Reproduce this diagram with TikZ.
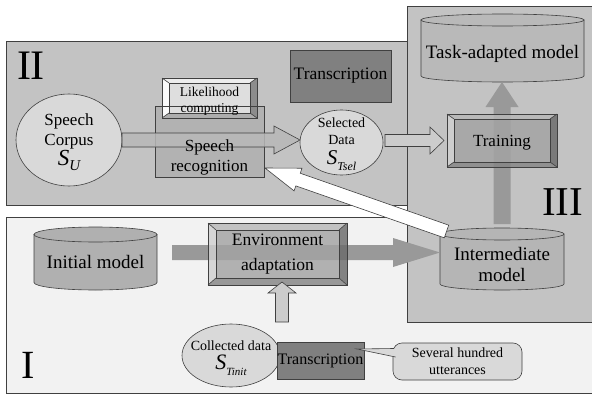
\documentclass[tikz,border=0pt]{standalone}
\usepackage{fontspec}
\setmainfont{Liberation Serif}
\usetikzlibrary{calc,shapes.geometric}

\definecolor{paneldark}{gray}{0.765}
\definecolor{panellight}{gray}{0.95}
\definecolor{rim}{gray}{0.25}
\definecolor{oval}{gray}{0.85}
\definecolor{transfill}{gray}{0.5}
\definecolor{recogfill}{gray}{0.70}
\definecolor{flowdark}{gray}{0.60}
\definecolor{flowmid}{gray}{0.72}
\definecolor{flowlight}{gray}{0.80}
% bevel colours: face, top, left, right, bottom
\definecolor{trface}{gray}{0.64}\definecolor{trtop}{gray}{0.72}\definecolor{trleft}{gray}{0.82}
\definecolor{trright}{gray}{0.42}\definecolor{trbottom}{gray}{0.52}
\definecolor{lkface}{gray}{0.87}\definecolor{lktop}{gray}{0.93}\definecolor{lkleft}{gray}{0.98}
\definecolor{lkright}{gray}{0.55}\definecolor{lkbottom}{gray}{0.68}

% S with a lowered italic index
\newcommand\setsym[4]{{\fontsize{#3}{#3}\selectfont\itshape S}\raisebox{-#4pt}{\fontsize{#2}{#2}\selectfont\itshape #1}}
% keep the baseline distance fixed even for the larger symbol line
\newcommand\tightlines{\lineskiplimit=-20pt\relax}

% block arrow: #1 style, #2 tail, #3 tip, #4 body half width, #5 head half width, #6 head length
\newcommand\blockarrow[6]{%
  \coordinate (ba-neck) at ($(#3)!#6!(#2)$);
  \path[#1] ($(#2)!#4!90:(#3)$) -- ($(ba-neck)!#4!90:(#3)$) -- ($(ba-neck)!#5!90:(#3)$)
    -- (#3) -- ($(ba-neck)!#5!-90:(#3)$) -- ($(ba-neck)!#4!-90:(#3)$) -- ($(#2)!#4!-90:(#3)$) -- cycle;
}

% bevelled box on a frame node: #1 node, #2 inset x, #3 inset y, #4 colour prefix, #5 fill opacity
\newcommand\bevelbox[5]{%
  \coordinate (#1-inw) at ([xshift=#2pt,yshift=-#3pt]#1.north west);
  \coordinate (#1-ine) at ([xshift=-#2pt,yshift=-#3pt]#1.north east);
  \coordinate (#1-isw) at ([xshift=#2pt,yshift=#3pt]#1.south west);
  \coordinate (#1-ise) at ([xshift=-#2pt,yshift=#3pt]#1.south east);
  \begin{scope}[fill opacity=#5]
    \fill[#4face] (#1-inw) rectangle (#1-ise);
    \fill[#4top] (#1.north west) -- (#1.north east) -- (#1-ine) -- (#1-inw) -- cycle;
    \fill[#4left] (#1.north west) -- (#1-inw) -- (#1-isw) -- (#1.south west) -- cycle;
    \fill[#4right] (#1.north east) -- (#1-ine) -- (#1-ise) -- (#1.south east) -- cycle;
    \fill[#4bottom] (#1.south west) -- (#1-isw) -- (#1-ise) -- (#1.south east) -- cycle;
  \end{scope}
  \draw[edgeline] (#1.north west) rectangle (#1.south east);
  \draw[edgeline] (#1-inw) rectangle (#1-ise);
  \draw[edgeline] (#1.north west) -- (#1-inw) (#1.north east) -- (#1-ine)
                  (#1.south west) -- (#1-isw) (#1.south east) -- (#1-ise);
}

% cylinder on a frame node: #1 node, #2 end radius, #3 fill colour
\newcommand\drum[3]{%
  \path[fill=#3, edgeline] let \p1=($(#1.east)-(#1.west)$) in
    ([yshift=-#2pt]#1.north west) -- ([yshift=#2pt]#1.south west)
    arc[start angle=180, end angle=360, x radius=0.5*\x1, y radius=#2pt]
    -- ([yshift=-#2pt]#1.north east) -- cycle;
  \path[fill=#3, edgeline] let \p1=($(#1.east)-(#1.west)$) in
    ([yshift=-#2pt]#1.north) ellipse[x radius=0.5*\x1, y radius=#2pt];
}

\begin{document}
\begin{tikzpicture}[x=1pt,y=-1pt,
  edgeline/.style={draw=rim, line width=0.6pt},
  panel/.style={draw=rim, line width=0.9pt},
  frame/.style={rectangle, inner sep=0pt, outer sep=0pt},
  oval node/.style={ellipse, edgeline, fill=oval, inner sep=0pt, outer sep=0pt},
  txt/.style={inner sep=0pt, outer sep=0pt, align=center, font=\fontsize{17}{20}\selectfont},
  smalltxt/.style={inner sep=0pt, outer sep=0pt, align=center, font=\fontsize{14}{17}\selectfont\tightlines},
  bigtxt/.style={inner sep=0pt, outer sep=0pt, align=center, font=\fontsize{19}{21}\selectfont},
  numeral/.style={inner sep=0pt, outer sep=0pt, anchor=base west, font=\fontsize{41}{41}\selectfont},
  trans box/.style={rectangle, edgeline, fill=transfill, inner sep=0pt, outer sep=0pt},
  outlined flow/.style={edgeline, fill=#1},
  plain flow/.style={fill=flowdark},
]
\clip (0,0) rectangle (592,396);
\fill[white] (0,0) rectangle (592,396);

% the three stage panels
\path[panel, fill=panellight] (6,217) rectangle (600,393);
\path[panel, fill=paneldark] (6,41) rectangle (420,205);
\path[panel, fill=paneldark] (407,6) rectangle (600,322);

% ---------- stage II: data selection ----------
\node[oval node, minimum width=106pt, minimum height=92pt] (corpus) at (69,140) {};
\node[frame, minimum width=109pt, minimum height=71pt] (recog) at (209.5,141.5) {};
\node[frame, minimum width=95pt, minimum height=40pt] (lik) at (209.5,98) {};
\fill[recogfill] (recog.north west) rectangle (recog.south east);
\bevelbox{lik}{7}{5}{lk}{1}
\draw[edgeline] (recog.north west) rectangle (recog.south east);
\node[oval node, minimum width=83pt, minimum height=65pt] (sel) at (341.5,142.5) {};
\coordinate (a1-tip) at (corpus.east -| sel.west);
\blockarrow{outlined flow=flowmid, fill opacity=0.85}{corpus.east}{a1-tip}{7pt}{14pt}{26pt}
\node[txt] (corpus-text) at (69,142) {Speech\\Corpus\\\setsym{U}{15}{23}{5}};
\node[font=\fontsize{13.5}{16}\selectfont, align=center, inner sep=0pt] (lik-text) at (209.5,101) {Likelihood\\computing};
\node[txt] (recog-text) at (209.5,157) {Speech\\recognition};
\node[smalltxt] (sel-text) at (341.5,144) {Selected\\Data\\[3pt]\setsym{Tsel}{12}{21}{6}};
\node[trans box, minimum width=101pt, minimum height=52pt, font=\fontsize{17.5}{20}\selectfont] (trans1) at (340.5,76) {Transcription};

% ---------- stage III: task adaptation ----------
\node[frame, minimum width=163pt, minimum height=68pt] (task) at (502.5,48) {};
\drum{task}{6}{paneldark!95!black}
\node[bigtxt] (task-text) at (502.5,54) {Task-adapted model};
\node[frame, minimum width=124pt, minimum height=62pt] (inter) at (502,259) {};
\node[frame, minimum width=110pt, minimum height=53pt] (train) at (502,140.5) {};
\coordinate (a3-tail) at ([yshift=4pt]inter.north);
\coordinate (a3-tip) at (inter.north |- task.south);
\blockarrow{plain flow}{a3-tail}{a3-tip}{8.5pt}{16.5pt}{25pt}
\bevelbox{train}{7}{5}{tr}{0.82}
\node[txt] (train-text) at (502,143) {Training};
\coordinate (a2-tail) at ([xshift=2pt]sel.east |- train.west);
\coordinate (a2-tip) at ([xshift=-3pt]train.west);
\blockarrow{outlined flow=flowlight}{a2-tail}{a2-tip}{6pt}{13.5pt}{14pt}

% ---------- stage I: environment adaptation ----------
\node[frame, minimum width=123pt, minimum height=63pt] (init) at (95.5,258.5) {};
\drum{init}{7.5}{gray!62!white}
\node[bigtxt] (init-text) at (95.5,262) {Initial model};
\drum{inter}{6}{gray!58!white}
\node[bigtxt] (inter-text) at (502,264) {Intermediate\\model};
\node[frame, minimum width=139pt, minimum height=62pt] (env) at (277.5,254) {};
\coordinate (a4-tail) at ([xshift=15pt,yshift=6pt]init.east);
\coordinate (a4-tip) at (inter.west |- a4-tail);
\blockarrow{plain flow}{a4-tail}{a4-tip}{7.5pt}{14.5pt}{47pt}
\bevelbox{env}{8}{7}{tr}{0.82}
\node[txt, font=\fontsize{17.5}{25}\selectfont] (env-text) at (277.5,254) {Environment\\adaptation};
\node[oval node, minimum width=98pt, minimum height=63pt] (coll) at (231,355.5) {};
\coordinate (a5-tip) at ([xshift=4.5pt,yshift=3pt]env.south);
\coordinate (a5-tail) at ([yshift=2pt]coll.north -| a5-tip);
\blockarrow{outlined flow=flowlight}{a5-tail}{a5-tip}{6.5pt}{14pt}{11pt}
\node[smalltxt, font=\fontsize{14}{19}\selectfont\tightlines] (coll-text) at (231,358) {Collected data\\\setsym{Tinit}{11}{22}{6}};
\node[trans box, minimum width=87pt, minimum height=37pt, font=\fontsize{16}{18}\selectfont] (trans2) at (320.5,360.5) {Transcription};
\node[rectangle, rounded corners=9pt, edgeline, fill=oval, minimum width=129pt, minimum height=37pt,
      inner sep=0pt, align=center, font=\fontsize{14}{17}\selectfont] (note) at (457.5,361.5) {Several hundred\\utterances};
\coordinate (note-tip) at ([xshift=-7pt,yshift=-7pt]trans2.north east);
\coordinate (note-a) at (394,348.5);
\coordinate (note-b) at (395.5,357);
\fill[oval] (note-tip) -- (note-a) -- ([xshift=3pt]note-a) -- ([xshift=3pt]note-b) -- (note-b) -- cycle;
\draw[edgeline] (note-a) -- (note-tip) -- (note-b);

% feedback from the intermediate model to recognition
\coordinate (a6-tail) at ([xshift=-55.5pt,yshift=-3.5pt]inter.north);
\coordinate (a6-tip) at ([xshift=1pt,yshift=9pt]recog.south east);
\blockarrow{outlined flow=white}{a6-tail}{a6-tip}{6.7pt}{12pt}{35pt}

% stage numerals
\node[numeral, font=\fontsize{42}{42}\selectfont] (num-two) at (17,80) {II};
\node[numeral] (num-three) at (542,215) {III};
\node[numeral, font=\fontsize{40}{40}\selectfont] (num-one) at (21,378) {I};
\end{tikzpicture}
\end{document}
